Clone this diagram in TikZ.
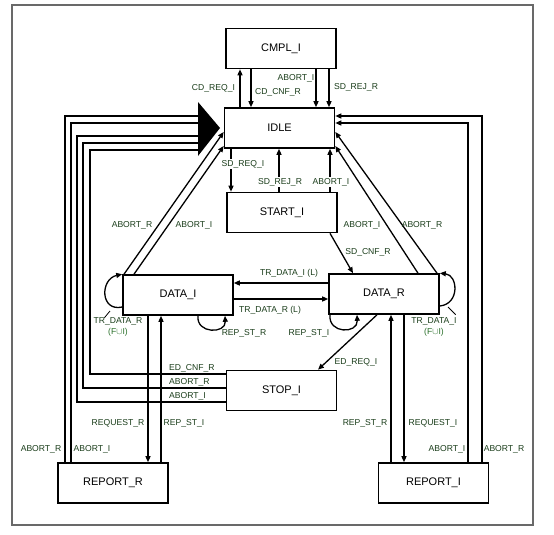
\documentclass[tikz,border=0pt]{standalone}
\usepackage{fontspec}
\setmainfont{Liberation Sans}
\usepackage{amssymb,amsmath}
\usetikzlibrary{arrows.meta}
\definecolor{lblgreen}{RGB}{25,60,25}
\definecolor{fugreen}{RGB}{40,110,40}
\definecolor{framegray}{RGB}{105,105,105}

\begin{document}
\begin{tikzpicture}[x=1pt,y=-1pt,>={Triangle[length=6pt,width=5pt]},line width=1.3pt,
    lbl/.style={font=\fontsize{8.6}{10.5}\selectfont,text=lblgreen,inner sep=0.5pt},
    wlbl/.style={lbl,fill=white,inner sep=1pt}]
\useasboundingbox (0,0) rectangle (554,535);
\draw[framegray,line width=1.2pt] (12,5) rectangle (533,525);

\begin{scope}[every node/.style={rectangle,draw,line width=1.6pt,minimum width=110pt,minimum height=40pt,font=\fontsize{11}{12}\selectfont}]
    \node (CMPL) at (281,48.5) {CMPL\_I};
    \node (IDLE) at (279.5,128) {IDLE};
    \node (START) at (282,212.5) {START\_I};
    \node (DI) at (178,295) {DATA\_I};
    \node (DR) at (384,294) {DATA\_R};
    \node (STOP) at (281.5,390.5) {STOP\_I};
    \node (RR) at (113,483) {REPORT\_R};
    \node (RI) at (433.5,483) {REPORT\_I};
\end{scope}

\begin{scope}[every edge/.style={draw=black,line width=1.3pt,->}]
    \path (IDLE.north -| 240,0) edge (CMPL.south -| 240,0);
    \path (CMPL.south -| 251,0) edge (IDLE.north -| 251,0);
    \path (CMPL.south -| 316,0) edge (IDLE.north -| 316,0);
    \path (CMPL.south -| 329,0) edge (IDLE.north -| 329,0);
    \path (IDLE.south -| 231,0) edge (START.north -| 231,0);
    \path (START.north -| 279,0) edge (IDLE.south -| 279,0);
    \path (START.north -| 330,0) edge (IDLE.south -| 330,0);
    \path (START.south -| 330,0) edge (DR.north -| 353,0);
    \path (DI.north -| 124,0) edge (IDLE.west |- 0,132);
    \path (DI.north -| 134,0) edge (IDLE.west |- 0,146);
    \path (DR.north -| 418,0) edge (IDLE.east |- 0,146);
    \path (DR.north -| 437,0) edge (IDLE.east |- 0,132);
    \path (DR.west |- 0,283) edge (DI.east |- 0,283);
    \path (DI.east |- 0,299) edge (DR.west |- 0,299);
    \path (DR.south -| 377,0) edge (STOP.north -| 318,0);
    \path (DI.south -| 148,0) edge (RR.north -| 148,0);
    \path (RR.north -| 161,0) edge (DI.south -| 161,0);
    \path (RI.north -| 391,0) edge (DR.south -| 391,0);
    \path (DR.south -| 404,0) edge (RI.north -| 404,0);
\end{scope}

% self loops
\draw[->] (DI.west |- 0,307) .. controls (100,312) and (100,279) .. (DI.north west);
\draw[->] (DI.south -| 198,0) .. controls (196,334) and (226,334) .. (DI.south -| 225,0);
\draw[->] (DR.south -| 330,0) .. controls (328,334) and (358,334) .. (DR.south -| 357,0);
\draw[->] (DR.east |- 0,306) .. controls (460,304) and (458,275) .. (DR.north east);

% abort lines to IDLE
\coordinate (T) at (198,128);
\draw (RR.north -| 65,0) |- (T |- 0,116);
\draw (RR.north -| 71,0) |- (T |- 0,123);
\draw (STOP.west |- 0,402) -| (77,136) -- (T |- 0,136);
\draw (STOP.west |- 0,388) -| (83,143) -- (T |- 0,143);
\draw (STOP.west |- 0,374) -| (90,150) -- (T |- 0,150);
\fill (T |- 0,102) -- (220,128) -- (T |- 0,156) -- cycle;
\draw[->] (RI.north -| 468,0) |- (IDLE.east |- 0,123);
\draw[->] (RI.north -| 482,0) |- (IDLE.east |- 0,116);

% labels
\node[lbl] (l1) at (213.5,88) {CD\_REQ\_I};
\node[lbl] (l2) at (278,92) {CD\_CNF\_R};
\node[lbl] (l3) at (296,78) {ABORT\_I};
\node[lbl] (l4) at (356,87) {SD\_REJ\_R};
\node[wlbl] (l5) at (243,164) {SD\_REQ\_I};
\node[wlbl] (l6) at (280,182) {SD\_REJ\_R};
\node[wlbl] (l7) at (331,182) {ABORT\_I};
\node[lbl] (l8) at (132,225) {ABORT\_R};
\node[lbl] (l9) at (194,225) {ABORT\_I};
\node[lbl] (l10) at (362,225) {ABORT\_I};
\node[lbl] (l11) at (422,225) {ABORT\_R};
\node[lbl] (l12) at (368,252) {SD\_CNF\_R};
\node[lbl] (l13) at (289,273) {TR\_DATA\_I (L)};
\node[lbl] (l14) at (270,310) {TR\_DATA\_R (L)};
\node[lbl] (l15) at (244,333) {REP\_ST\_R};
\node[lbl] (l16) at (309,333) {REP\_ST\_I};
\node[lbl,align=center] (l17) at (118,327) {TR\_DATA\_R\\{\color{fugreen}(F$\cup$I)}};
\node[lbl,align=center] (l18) at (434,327) {TR\_DATA\_I\\{\color{fugreen}(F$\cup$I)}};
\node[lbl] (l19) at (356,362) {ED\_REQ\_I};
\node[lbl,anchor=west] (l20) at (168,368) {ED\_CNF\_R};
\node[lbl,anchor=west] (l21) at (168,382) {ABORT\_R};
\node[lbl,anchor=west] (l22) at (168,396) {ABORT\_I};
\node[lbl] (l23) at (118,423) {REQUEST\_R};
\node[lbl] (l24) at (184,423) {REP\_ST\_I};
\node[lbl] (l25) at (365,423) {REP\_ST\_R};
\node[lbl] (l26) at (433,423) {REQUEST\_I};
\node[lbl] (l27) at (41,449) {ABORT\_R};
\node[lbl] (l28) at (92,449) {ABORT\_I};
\node[lbl] (l29) at (447,449) {ABORT\_I};
\node[lbl] (l30) at (504,449) {ABORT\_R};

% leaders
\draw[line width=0.8pt] (l17.north west) ++(12,1) -- (110,311);
\draw[line width=0.8pt] (l18.north east) ++(-2,-2) -- (448,307);
\end{tikzpicture}
\end{document}
